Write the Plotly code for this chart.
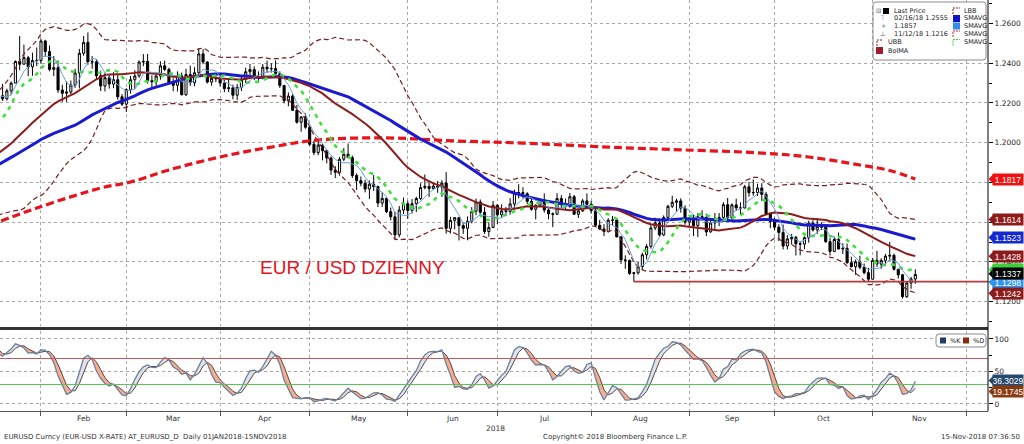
import numpy as np
import pandas as pd
import plotly.graph_objects as go

# ---------------- data ----------------
# warm-up history used only for the indicator windows (not drawn)
close_nov17 = [1.1621, 1.1656, 1.1608, 1.1609, 1.1584, 1.1591, 1.1649, 1.1665, 1.1662, 1.1795, 1.1794,
               1.1772, 1.1792, 1.1728, 1.1735, 1.1823, 1.1853, 1.1933, 1.1896, 1.1843, 1.1845, 1.1904]
close_dec17 = [1.1894, 1.1863, 1.1826, 1.1795, 1.1771, 1.1772, 1.1802, 1.1743, 1.1827, 1.1776, 1.1750,
               1.1784, 1.1840, 1.1874, 1.1873, 1.1858, 1.1862, 1.1865, 1.1888, 1.1943, 1.2005]
high_dec17 = [1.1961, 1.1903, 1.1879, 1.1834, 1.1810, 1.1794, 1.1812, 1.1815, 1.1838, 1.1862, 1.1803,
              1.1806, 1.1851, 1.1888, 1.1897, 1.1881, 1.1872, 1.1883, 1.1904, 1.1960, 1.2023]
low_dec17 = [1.1850, 1.1836, 1.1810, 1.1782, 1.1762, 1.1729, 1.1762, 1.1718, 1.1733, 1.1765, 1.1734,
             1.1745, 1.1776, 1.1823, 1.1847, 1.1810, 1.1847, 1.1845, 1.1853, 1.1885, 1.1937]

# daily EUR/USD 02-Jan-2018 .. 15-Nov-2018 (one row per month)
close = [
    1.2058, 1.2016, 1.2068, 1.2029, 1.1967, 1.1937, 1.1947, 1.2032, 1.2200, 1.2264, 1.2262, 1.2180, 1.2236, 1.2221, 1.2261, 1.2300, 1.2409, 1.2395, 1.2428, 1.2382, 1.2414, 1.2414,
    1.2512, 1.2459, 1.2369, 1.2378, 1.2265, 1.2249, 1.2255, 1.2290, 1.2351, 1.2450, 1.2505, 1.2406, 1.2407, 1.2337, 1.2285, 1.2327, 1.2295, 1.2317, 1.2231, 1.2194,
    1.2267, 1.2317, 1.2336, 1.2406, 1.2409, 1.2312, 1.2307, 1.2336, 1.2387, 1.2369, 1.2304, 1.2289, 1.2336, 1.2241, 1.2343, 1.2302, 1.2352, 1.2447, 1.2406, 1.2305, 1.2324, 1.2322,
    1.2300, 1.2272, 1.2276, 1.2239, 1.2279, 1.2319, 1.2357, 1.2368, 1.2326, 1.2330, 1.2380, 1.2372, 1.2373, 1.2347, 1.2288, 1.2211, 1.2235, 1.2163, 1.2103, 1.2130, 1.2078,
    1.1992, 1.1950, 1.1988, 1.1960, 1.1923, 1.1862, 1.1851, 1.1917, 1.1942, 1.1925, 1.1835, 1.1809, 1.1796, 1.1767, 1.1791, 1.1779, 1.1696, 1.1720, 1.1653, 1.1627, 1.1536, 1.1661, 1.1693,
    1.1659, 1.1693, 1.1719, 1.1774, 1.1780, 1.1769, 1.1782, 1.1776, 1.1797, 1.1569, 1.1609, 1.1623, 1.1583, 1.1569, 1.1605, 1.1655, 1.1702, 1.1650, 1.1553, 1.1573, 1.1685,
    1.1637, 1.1657, 1.1655, 1.1692, 1.1747, 1.1749, 1.1743, 1.1705, 1.1665, 1.1685, 1.1712, 1.1661, 1.1642, 1.1640, 1.1719, 1.1692, 1.1686, 1.1728, 1.1640, 1.1657, 1.1707, 1.1690,
    1.1658, 1.1584, 1.1566, 1.1553, 1.1610, 1.1611, 1.1526, 1.1410, 1.1408, 1.1342, 1.1345, 1.1376, 1.1436, 1.1478, 1.1571, 1.1596, 1.1536, 1.1624, 1.1680, 1.1700, 1.1707, 1.1671, 1.1601,
    1.1621, 1.1583, 1.1628, 1.1624, 1.1551, 1.1596, 1.1601, 1.1624, 1.1688, 1.1623, 1.1687, 1.1672, 1.1671, 1.1778, 1.1748, 1.1749, 1.1772, 1.1740, 1.1641, 1.1604,
    1.1575, 1.1548, 1.1480, 1.1516, 1.1524, 1.1491, 1.1490, 1.1522, 1.1595, 1.1561, 1.1579, 1.1575, 1.1502, 1.1453, 1.1513, 1.1465, 1.1468, 1.1396, 1.1376, 1.1401, 1.1373, 1.1346, 1.1313,
    1.1408, 1.1389, 1.1408, 1.1429, 1.1433, 1.1363, 1.1335, 1.1225, 1.1294, 1.1314, 1.1337,
]
high = [
    1.2081, 1.2065, 1.2090, 1.2089, 1.2036, 1.1977, 1.2023, 1.2060, 1.2219, 1.2297, 1.2324, 1.2282, 1.2284, 1.2296, 1.2272, 1.2308, 1.2414, 1.2537, 1.2494, 1.2437, 1.2453, 1.2479,
    1.2523, 1.2518, 1.2489, 1.2436, 1.2414, 1.2292, 1.2309, 1.2313, 1.2372, 1.2472, 1.2537, 1.2555, 1.2436, 1.2418, 1.2363, 1.2353, 1.2340, 1.2355, 1.2345, 1.2245,
    1.2274, 1.2336, 1.2365, 1.2414, 1.2446, 1.2447, 1.2339, 1.2347, 1.2410, 1.2413, 1.2377, 1.2324, 1.2359, 1.2353, 1.2372, 1.2388, 1.2380, 1.2476, 1.2470, 1.2410, 1.2340, 1.2337,
    1.2345, 1.2315, 1.2323, 1.2292, 1.2295, 1.2339, 1.2378, 1.2396, 1.2384, 1.2359, 1.2396, 1.2413, 1.2400, 1.2414, 1.2359, 1.2291, 1.2253, 1.2244, 1.2190, 1.2133, 1.2148,
    1.2083, 1.2010, 1.2010, 1.1995, 1.1965, 1.1931, 1.1882, 1.1928, 1.1973, 1.1996, 1.1935, 1.1846, 1.1830, 1.1813, 1.1810, 1.1837, 1.1784, 1.1751, 1.1723, 1.1674, 1.1653, 1.1681, 1.1724,
    1.1708, 1.1716, 1.1728, 1.1796, 1.1840, 1.1800, 1.1800, 1.1808, 1.1811, 1.1852, 1.1627, 1.1624, 1.1624, 1.1597, 1.1629, 1.1676, 1.1719, 1.1714, 1.1676, 1.1599, 1.1707,
    1.1691, 1.1690, 1.1676, 1.1721, 1.1764, 1.1791, 1.1776, 1.1751, 1.1720, 1.1690, 1.1721, 1.1745, 1.1669, 1.1649, 1.1746, 1.1736, 1.1719, 1.1747, 1.1737, 1.1667, 1.1717, 1.1745,
    1.1707, 1.1669, 1.1611, 1.1590, 1.1620, 1.1631, 1.1618, 1.1529, 1.1433, 1.1411, 1.1350, 1.1400, 1.1446, 1.1490, 1.1586, 1.1623, 1.1620, 1.1634, 1.1688, 1.1733, 1.1718, 1.1720, 1.1685,
    1.1625, 1.1637, 1.1646, 1.1660, 1.1643, 1.1609, 1.1646, 1.1646, 1.1701, 1.1722, 1.1695, 1.1718, 1.1700, 1.1788, 1.1803, 1.1815, 1.1793, 1.1796, 1.1753, 1.1643,
    1.1622, 1.1589, 1.1588, 1.1535, 1.1541, 1.1530, 1.1504, 1.1529, 1.1608, 1.1610, 1.1621, 1.1599, 1.1587, 1.1520, 1.1528, 1.1548, 1.1494, 1.1492, 1.1426, 1.1412, 1.1431, 1.1392, 1.1370,
    1.1420, 1.1456, 1.1418, 1.1440, 1.1500, 1.1442, 1.1364, 1.1340, 1.1301, 1.1325, 1.1363,
]
low = [
    1.2004, 1.1999, 1.2004, 1.2002, 1.1956, 1.1916, 1.1916, 1.1921, 1.2026, 1.2190, 1.2213, 1.2165, 1.2167, 1.2210, 1.2212, 1.2241, 1.2300, 1.2365, 1.2395, 1.2335, 1.2337, 1.2386,
    1.2397, 1.2433, 1.2360, 1.2335, 1.2251, 1.2206, 1.2206, 1.2245, 1.2276, 1.2273, 1.2438, 1.2392, 1.2372, 1.2321, 1.2260, 1.2258, 1.2272, 1.2274, 1.2216, 1.2185,
    1.2155, 1.2247, 1.2272, 1.2327, 1.2385, 1.2297, 1.2273, 1.2283, 1.2317, 1.2360, 1.2295, 1.2259, 1.2258, 1.2239, 1.2236, 1.2286, 1.2284, 1.2345, 1.2395, 1.2298, 1.2287, 1.2305,
    1.2283, 1.2254, 1.2255, 1.2218, 1.2215, 1.2260, 1.2300, 1.2340, 1.2315, 1.2300, 1.2319, 1.2352, 1.2353, 1.2336, 1.2275, 1.2198, 1.2183, 1.2161, 1.2096, 1.2055, 1.2070,
    1.1985, 1.1938, 1.1937, 1.1911, 1.1896, 1.1838, 1.1822, 1.1834, 1.1907, 1.1922, 1.1822, 1.1762, 1.1781, 1.1750, 1.1717, 1.1757, 1.1676, 1.1677, 1.1646, 1.1609, 1.1510, 1.1524, 1.1641,
    1.1617, 1.1643, 1.1651, 1.1712, 1.1765, 1.1727, 1.1763, 1.1748, 1.1727, 1.1542, 1.1543, 1.1564, 1.1508, 1.1541, 1.1509, 1.1594, 1.1635, 1.1635, 1.1541, 1.1527, 1.1578,
    1.1591, 1.1623, 1.1631, 1.1638, 1.1669, 1.1720, 1.1720, 1.1691, 1.1658, 1.1614, 1.1676, 1.1648, 1.1614, 1.1575, 1.1637, 1.1670, 1.1660, 1.1672, 1.1637, 1.1621, 1.1651, 1.1684,
    1.1643, 1.1577, 1.1561, 1.1530, 1.1548, 1.1583, 1.1524, 1.1390, 1.1365, 1.1335, 1.1301, 1.1336, 1.1362, 1.1413, 1.1467, 1.1560, 1.1527, 1.1530, 1.1610, 1.1671, 1.1654, 1.1648, 1.1587,
    1.1574, 1.1530, 1.1526, 1.1609, 1.1530, 1.1547, 1.1566, 1.1580, 1.1603, 1.1613, 1.1614, 1.1657, 1.1636, 1.1673, 1.1728, 1.1733, 1.1732, 1.1708, 1.1637, 1.1570,
    1.1560, 1.1505, 1.1463, 1.1463, 1.1487, 1.1432, 1.1433, 1.1464, 1.1497, 1.1553, 1.1540, 1.1560, 1.1496, 1.1432, 1.1449, 1.1463, 1.1440, 1.1391, 1.1373, 1.1335, 1.1363, 1.1338, 1.1302,
    1.1312, 1.1374, 1.1365, 1.1386, 1.1406, 1.1356, 1.1316, 1.1216, 1.1219, 1.1265, 1.1290,
]

# 200-day average at sample dates
sma200_dates = ["2018-01-16", "2018-01-31", "2018-02-21", "2018-03-02", "2018-03-15", "2018-04-03",
                "2018-04-18", "2018-05-03", "2018-05-25", "2018-06-18", "2018-07-10", "2018-08-07",
                "2018-08-23", "2018-09-26", "2018-10-11", "2018-10-29", "2018-11-07", "2018-11-15"]
sma200_vals = [1.1585, 1.1671, 1.1772, 1.1802, 1.1863, 1.1933, 1.1978, 1.2014, 1.2024, 1.2009, 1.1998,
               1.1978, 1.1968, 1.1948, 1.1928, 1.1888, 1.1860, 1.1817]

# right-hand value tags
tag_vals = [1.1817, 1.1614, 1.1523, 1.1428, 1.1360, 1.1298, 1.1340, 1.1242]
tag_text = ["1.1817", "1.1614", "1.1523", "1.1428", " ", "1.1298", "1.1337", "1.1242"]
tag_colors = ["#ee1111", "#8e1b1b", "#1428d2", "#8e1b1b", "#3ccf3c", "#2f95ee", "#000000", "#8e1b1b"]
stoch_tag_vals = [36.3029, 19.1745]
stoch_tag_colors = ["#27496b", "#8a3a10"]

price_ticks = [1.12, 1.14, 1.16, 1.18, 1.20, 1.22, 1.24, 1.26]
price_minor = [1.11, 1.13, 1.15, 1.17, 1.19, 1.21, 1.23, 1.25, 1.27]
stoch_ticks = [0, 50, 100]
month_names = ["Jan", "Feb", "Mar", "Apr", "May", "Jun", "Jul", "Aug", "Sep", "Oct", "Nov", "Dec"]

legend_left = ["Last Price", "02/16/18 1.2555", "1.1857", "11/12/18 1.1216", "UBB", "BolMA"]
legend_right = ["LBB", "SMAVG", "SMAVG", "SMAVG", "SMAVG"]

# ---------------- helpers ----------------
W, H = 1024, 444
def px(x):
    return x / W
def py(y):
    return 1 - y / H

FONT = "DejaVu Sans"
AX_RIGHT = px(988)

axis_days = pd.bdate_range("2018-01-02", "2018-12-31")
n = len(close)
xi = np.arange(n)
openp = [close_dec17[-1]] + close[:-1]

# indicators
c_all = pd.Series(close_nov17 + close_dec17 + close)
off = len(close_nov17) + len(close_dec17)
def sma(k):
    return c_all.rolling(k).mean().iloc[off:].to_numpy()
sma5, sma10, sma30, sma50 = sma(5), sma(10), sma(30), sma(50)
std30 = c_all.rolling(30).std(ddof=0).iloc[off:].to_numpy()
ubb = sma30 + 2 * std30
lbb = sma30 - 2 * std30

Hs = pd.Series(high_dec17 + high)
Ls = pd.Series(low_dec17 + low)
Cs = pd.Series(close_dec17 + close)
hh = Hs.rolling(14).max()
ll = Ls.rolling(14).min()
fk = 100 * (Cs - ll) / (hh - ll)
sk = fk.rolling(3).mean()
sd = sk.rolling(3).mean()
o2 = len(close_dec17)
K = sk.iloc[o2:].to_numpy()
D = sd.iloc[o2:].to_numpy()

# fill polygons between %K and %D (with crossing points)
fx, fkk, fdd = [], [], []
for i in range(n):
    if i > 0:
        a = K[i - 1] - D[i - 1]
        b = K[i] - D[i]
        if a * b < 0:
            t = a / (a - b)
            yc = K[i - 1] + t * (K[i] - K[i - 1])
            fx.append(i - 1 + t); fkk.append(yc); fdd.append(yc)
    fx.append(i); fkk.append(K[i]); fdd.append(D[i])
fkk = np.array(fkk); fdd = np.array(fdd)
upper = np.maximum(fkk, fdd)
lower = np.minimum(fkk, fdd)

# month boundaries
mstart = []
for m in range(1, 13):
    idx = np.where(axis_days.month == m)[0]
    mstart.append(int(idx[0]))
mstart.append(len(axis_days))

X0 = 12.39
X1 = 244.04

fig = go.Figure()

# Bollinger bands
for band in (ubb, lbb):
    fig.add_trace(go.Scatter(x=xi, y=band, mode="lines", xaxis="x", yaxis="y",
                             line=dict(color="#7a1f1f", width=1.2, dash="5px,3px")))

# candles
fig.add_trace(go.Candlestick(
    x=xi, open=openp, high=high, low=low, close=close, xaxis="x", yaxis="y",
    increasing=dict(line=dict(color="#000000", width=1), fillcolor="#ffffff"),
    decreasing=dict(line=dict(color="#000000", width=1), fillcolor="#000000"),
    whiskerwidth=0))

# 200-day
s200_x = [axis_days.get_loc(pd.Timestamp(d)) for d in sma200_dates]
fig.add_trace(go.Scatter(x=s200_x, y=sma200_vals, mode="lines", xaxis="x", yaxis="y",
                         line=dict(color="#e8141c", width=3.2, dash="8px,4px", shape="spline")))
# 50-day
fig.add_trace(go.Scatter(x=xi, y=sma50, mode="lines", xaxis="x", yaxis="y",
                         line=dict(color="#1a1ad0", width=3)))
# Bollinger MA
fig.add_trace(go.Scatter(x=xi, y=sma30, mode="lines", xaxis="x", yaxis="y",
                         line=dict(color="#8e1b1b", width=2)))
# 10-day
fig.add_trace(go.Scatter(x=xi, y=sma10, mode="lines", xaxis="x", yaxis="y",
                         line=dict(color="#3ee03e", width=2.6, dash="4px,5px")))
# 5-day
fig.add_trace(go.Scatter(x=xi, y=sma5, mode="lines", xaxis="x", yaxis="y",
                         line=dict(color="#6a9fd4", width=1)))

# stochastic fills and lines
fig.add_trace(go.Scatter(x=fx, y=fdd, mode="lines", line=dict(width=0), xaxis="x2", yaxis="y2"))
fig.add_trace(go.Scatter(x=fx, y=upper, mode="lines", line=dict(width=0), fill="tonexty",
                         fillcolor="#dfe3ea", xaxis="x2", yaxis="y2"))
fig.add_trace(go.Scatter(x=fx, y=fdd, mode="lines", line=dict(width=0), xaxis="x2", yaxis="y2"))
fig.add_trace(go.Scatter(x=fx, y=lower, mode="lines", line=dict(width=0), fill="tonexty",
                         fillcolor="#f6ad92", xaxis="x2", yaxis="y2"))
fig.add_trace(go.Scatter(x=xi, y=D, mode="lines", line=dict(color="#5c4640", width=1),
                         xaxis="x2", yaxis="y2"))
fig.add_trace(go.Scatter(x=xi, y=K, mode="lines", line=dict(color="#6c809c", width=1.3),
                         xaxis="x2", yaxis="y2"))

shapes = []
annotations = []

# support line from the August low
i_aug = int(np.argmin(low[140:180])) + 140
shapes.append(dict(type="line", xref="x", yref="y", x0=i_aug, x1=X1, y0=low[i_aug], y1=low[i_aug],
                   line=dict(color="#b73a3a", width=1.6)))
# stochastic reference lines
shapes.append(dict(type="line", xref="paper", yref="y2", x0=0, x1=AX_RIGHT, y0=70, y1=70,
                   line=dict(color="#c45555", width=1)))
shapes.append(dict(type="line", xref="paper", yref="y2", x0=0, x1=AX_RIGHT, y0=30, y1=30,
                   line=dict(color="#55c455", width=1)))
# panel separator
shapes.append(dict(type="line", xref="paper", yref="paper", x0=0, x1=AX_RIGHT, y0=py(328.5), y1=py(328.5),
                   line=dict(color="#333333", width=3)))
# right axis line
shapes.append(dict(type="line", xref="paper", yref="paper", x0=AX_RIGHT, x1=AX_RIGHT, y0=py(411), y1=1,
                   line=dict(color="#000000", width=1)))

# value tags
hpx = 11
for v, txt, col in zip(tag_vals, tag_text, tag_colors):
    h = (hpx / 2) * (1.27182 - 1.10775) / 326
    shapes.append(dict(type="path", xref="paper", yref="y",
                       path=f"M {px(988.5)},{v} L {px(994)},{v + h} L {px(994)},{v - h} Z",
                       fillcolor=col, line=dict(width=0)))
    annotations.append(dict(x=1.0, y=v, xref="paper", yref="y", xanchor="right", yanchor="middle",
                            text=txt, showarrow=False, bgcolor=col, width=30, height=hpx,
                            borderpad=0, font=dict(family="Liberation Sans", size=8.5, color="white")))
for v, col in zip(stoch_tag_vals, stoch_tag_colors):
    h = (hpx / 2) * (112.3 + 10.8) / 80
    shapes.append(dict(type="path", xref="paper", yref="y2",
                       path=f"M {px(988.5)},{v} L {px(994)},{v + h} L {px(994)},{v - h} Z",
                       fillcolor=col, line=dict(width=0)))
    annotations.append(dict(x=1.0, y=v, xref="paper", yref="y2", xanchor="right", yanchor="middle",
                            text=f"{v:.4f}", showarrow=False, bgcolor=col, width=30, height=hpx,
                            borderpad=0, font=dict(family="Liberation Sans", size=8.5, color="white")))

# month labels
for m in range(12):
    mid = (mstart[m] + mstart[m + 1]) / 2
    if X0 < mid < X1:
        annotations.append(dict(x=mid, y=py(418), xref="x2", yref="paper", text=month_names[m],
                                showarrow=False, xanchor="center", yanchor="middle",
                                font=dict(family=FONT, size=7.5, color="#333333")))
annotations.append(dict(x=px(495), y=py(428), xref="paper", yref="paper", text="2018", showarrow=False,
                        xanchor="center", yanchor="middle", font=dict(family=FONT, size=7.5, color="#333333")))

# footer
annotations.append(dict(x=px(2), y=py(437), xref="paper", yref="paper", showarrow=False,
                        text="EURUSD Curncy (EUR-USD X-RATE) AT_EURUSD_D \u00a0Daily 01JAN2018-15NOV2018",
                        xanchor="left", yanchor="middle", font=dict(family=FONT, size=7, color="#333333")))
annotations.append(dict(x=px(541), y=py(437), xref="paper", yref="paper", showarrow=False,
                        text="Copyright\u00a9 2018 Bloomberg Finance L.P.",
                        xanchor="left", yanchor="middle", font=dict(family=FONT, size=7, color="#333333")))
annotations.append(dict(x=px(1022), y=py(437), xref="paper", yref="paper", showarrow=False,
                        text="15-Nov-2018 07:36:50",
                        xanchor="right", yanchor="middle", font=dict(family=FONT, size=7, color="#333333")))

# title
annotations.append(dict(x=px(258), y=py(267), xref="paper", yref="paper", showarrow=False,
                        text="EUR / USD DZIENNY", xanchor="left", yanchor="middle",
                        font=dict(family="Liberation Sans", size=19, color="#e3121b")))

# ---- legend box (main) ----
def rrect(x0, y0, x1, y1, r=3):
    a, b, c, d = px(x0), px(x1), py(y0), py(y1)
    rx, ry = r / W, r / H
    return (f"M {a + rx},{c} L {b - rx},{c} Q {b},{c} {b},{c - ry} L {b},{d + ry} Q {b},{d} {b - rx},{d} "
            f"L {a + rx},{d} Q {a},{d} {a},{d + ry} L {a},{c - ry} Q {a},{c} {a + rx},{c} Z")

shapes.append(dict(type="path", xref="paper", yref="paper", path=rrect(873, 2, 986, 60),
                   fillcolor="white", line=dict(color="#8a8a8a", width=1)))
rows = [11, 18.5, 26, 34, 42.5, 50.5]
leg_font = dict(family=FONT, size=6.5, color="#222222")
for k, (txt, yy) in enumerate(zip(legend_left, rows)):
    xt = 892 if k < 4 else 886
    annotations.append(dict(x=px(xt), y=py(yy), xref="paper", yref="paper", text=txt, showarrow=False,
                            xanchor="left", yanchor="middle", font=leg_font))
for sym, yy in zip(["\u229f", "\u22a4", "+", "\u22a5"], rows[:4]):
    annotations.append(dict(x=px(878 if sym == "\u229f" else 883), y=py(yy), xref="paper", yref="paper",
                            text=sym, showarrow=False, xanchor="center", yanchor="middle",
                            font=dict(family=FONT, size=6.5, color="#666666")))
shapes.append(dict(type="rect", xref="paper", yref="paper", x0=px(883), x1=px(889), y0=py(14), y1=py(8),
                   fillcolor="#000000", line=dict(width=0)))
shapes.append(dict(type="path", xref="paper", yref="paper",
                   path=f"M {px(877)},{py(46)} L {px(877)},{py(40)} L {px(883)},{py(40)}",
                   line=dict(color="#8e1b1b", width=1, dash="2px,1px")))
shapes.append(dict(type="rect", xref="paper", yref="paper", x0=px(876), x1=px(883), y0=py(54), y1=py(47),
                   fillcolor="#a01c2c", line=dict(width=0)))
icon_cols = ["#8e1b1b", "#1010c8", "#2f8fee", "#e8141c", "#3ccf3c"]
for k, (txt, yy) in enumerate(zip(legend_right, rows[:5])):
    annotations.append(dict(x=px(962), y=py(yy), xref="paper", yref="paper", text=txt, showarrow=False,
                            xanchor="left", yanchor="middle", font=leg_font))
    if k in (1, 2):
        shapes.append(dict(type="rect", xref="paper", yref="paper", x0=px(953), x1=px(960),
                           y0=py(yy + 3.5), y1=py(yy - 3.5), fillcolor=icon_cols[k], line=dict(width=0)))
    else:
        shapes.append(dict(type="path", xref="paper", yref="paper",
                           path=f"M {px(953)},{py(yy + 3)} L {px(953)},{py(yy - 3)} L {px(960)},{py(yy - 3)}",
                           line=dict(color=icon_cols[k], width=1, dash="2px,1px")))

# ---- legend box (stochastic) ----
shapes.append(dict(type="path", xref="paper", yref="paper", path=rrect(936, 334, 986, 347),
                   fillcolor="white", line=dict(color="#8a8a8a", width=1)))
for xs, col, txt in [(940, "#1f3d66", "%K"), (963, "#8b2a10", "%D")]:
    shapes.append(dict(type="rect", xref="paper", yref="paper", x0=px(xs), x1=px(xs + 6),
                       y0=py(343.5), y1=py(337.5), fillcolor=col, line=dict(width=0)))
    annotations.append(dict(x=px(xs + 8), y=py(340.5), xref="paper", yref="paper", text=txt,
                            showarrow=False, xanchor="left", yanchor="middle", font=leg_font))

grid = dict(showgrid=True, gridcolor="#a8a8a8", gridwidth=1, griddash="dot")
tick_font = dict(family=FONT, size=7.5, color="#222222")

fig.update_layout(
    width=W, height=H, margin=dict(l=0, r=0, t=0, b=0),
    paper_bgcolor="white", plot_bgcolor="white",
    showlegend=False, hovermode=False,
    xaxis=dict(domain=[0, AX_RIGHT], range=[X0, X1], anchor="y", tickmode="array",
               tickvals=mstart[1:12], showticklabels=False, ticks="", zeroline=False,
               showline=False, rangeslider=dict(visible=False), **grid),
    xaxis2=dict(domain=[0, AX_RIGHT], range=[X0, X1], anchor="y2", matches="x", tickmode="array",
                tickvals=mstart[1:12], showticklabels=False, ticks="outside", ticklen=4,
                tickcolor="#555555", showline=True, linecolor="#555555", linewidth=1,
                zeroline=False, **grid),
    yaxis=dict(domain=[py(326), 1], range=[1.10775, 1.27182], side="right", anchor="x",
               tickmode="array", tickvals=price_ticks, ticktext=[f"{v:.4f}" for v in price_ticks],
               ticks="outside", ticklen=4, tickcolor="#000000", showline=False, zeroline=False,
               tickfont=tick_font, automargin=False,
               minor=dict(tickmode="array", tickvals=price_minor, ticks="outside", ticklen=3,
                          tickcolor="#000000", showgrid=False),
               **grid),
    yaxis2=dict(domain=[py(411), py(331)], range=[-10.8, 112.3], side="right", anchor="x2",
                tickmode="array", tickvals=stoch_ticks, ticktext=[str(v) for v in stoch_ticks],
                ticks="outside", ticklen=4, tickcolor="#000000", showline=False, zeroline=False,
                tickfont=tick_font, automargin=False,
                minor=dict(tickmode="array", tickvals=[25, 75], ticks="outside", ticklen=3,
                           tickcolor="#000000", showgrid=False),
                **grid),
    shapes=shapes, annotations=annotations,
)

fig.write_html("out.html", include_plotlyjs=True, config={"displayModeBar": False},
               post_script="document.body.style.margin='0';document.body.style.overflow='hidden';")
